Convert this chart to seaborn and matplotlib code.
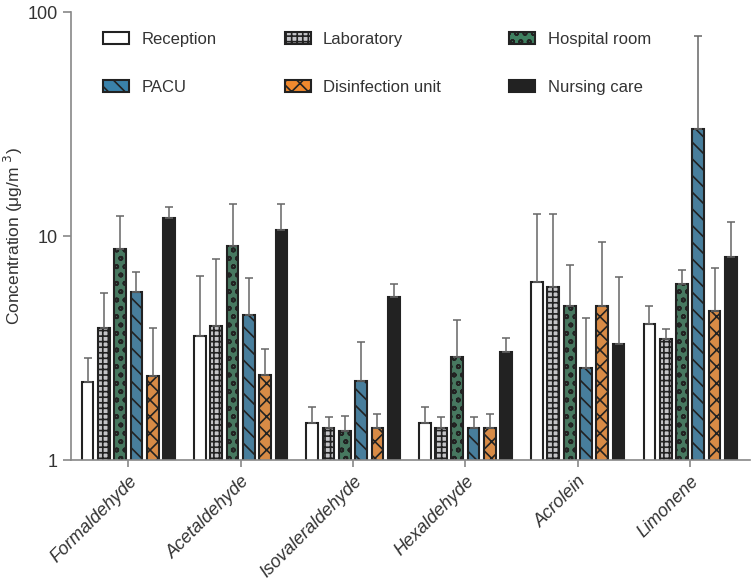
import numpy as np
import pandas as pd
import matplotlib
matplotlib.use("Agg")
import matplotlib.pyplot as plt
import seaborn as sns
from matplotlib.patches import Patch

compounds = ["Formaldehyde", "Acetaldehyde", "Isovaleraldehyde", "Hexaldehyde", "Acrolein", "Limonene"]
locations = ["Reception", "Laboratory", "Hospital room", "PACU", "Disinfection unit", "Nursing care"]

reception = [2.23, 3.58, 1.47, 1.47, 6.25, 4.05]
laboratory = [3.88, 3.97, 1.39, 1.39, 5.92, 3.47]
hospital_room = [8.75, 9.02, 1.35, 2.88, 4.87, 6.10]
pacu = [5.62, 4.44, 2.25, 1.39, 2.58, 30.0]
disinfection = [2.37, 2.39, 1.39, 1.39, 4.87, 4.63]
nursing = [12.0, 10.7, 5.35, 3.03, 3.30, 8.06]

reception_err_top = [2.85, 6.63, 1.72, 1.72, 12.5, 4.87]
laboratory_err_top = [5.57, 7.89, 1.56, 1.56, 12.5, 3.85]
hospital_room_err_top = [12.3, 13.9, 1.57, 4.22, 7.43, 7.05]
pacu_err_top = [6.9, 6.49, 3.37, 1.56, 4.31, 78.2]
disinfection_err_top = [3.88, 3.13, 1.60, 1.60, 9.4, 7.2]
nursing_err_top = [13.5, 13.9, 6.11, 3.51, 6.56, 11.55]

means = [reception, laboratory, hospital_room, pacu, disinfection, nursing]
tops = [reception_err_top, laboratory_err_top, hospital_room_err_top,
        pacu_err_top, disinfection_err_top, nursing_err_top]

rows = []
for loc, vals in zip(locations, means):
    for comp, v in zip(compounds, vals):
        rows.append({"Compound": comp, "Location": loc, "Concentration": v})
df = pd.DataFrame(rows)

face = {"Reception": "#ffffff", "Laboratory": "#c4c4c8", "Hospital room": "#3f8060",
        "PACU": "#3a82aa", "Disinfection unit": "#f0892e", "Nursing care": "#222222"}
hatches = {"Reception": "", "Laboratory": "+++", "Hospital room": "oo",
           "PACU": "\\\\", "Disinfection unit": "xx", "Nursing care": ""}

sns.set_style("ticks")
plt.rcParams["font.family"] = ["Liberation Sans", "DejaVu Sans"]
plt.rcParams["hatch.linewidth"] = 1.2

fig = plt.figure(figsize=(7.55, 5.81), dpi=100)
ax = fig.add_axes([0.094, 0.208, 0.899, 0.771])
ax.set_yscale("log")

sns.barplot(data=df, x="Compound", y="Concentration", hue="Location",
            order=compounds, hue_order=locations, palette=face,
            width=0.87, gap=0.28, errorbar=None, legend=False, ax=ax,
            edgecolor="#222222", linewidth=1.5)

for cont, loc, top in zip(ax.containers, locations, tops):
    xs = []
    ys = []
    for p in cont.patches:
        p.set_hatch(hatches[loc])
        p.set_edgecolor("#222222")
        xs.append(p.get_x() + p.get_width() / 2)
        ys.append(p.get_height())
    ys = np.array(ys)
    up = np.array(top) - ys
    ax.errorbar(xs, ys, yerr=[np.zeros_like(up), up], fmt="none",
                ecolor="#666666", elinewidth=1.1, capsize=3, capthick=1.1, zorder=1)

ax.set_ylim(1, 100)
ax.set_xlim(-0.51, 5.53)
ax.yaxis.set_major_locator(matplotlib.ticker.FixedLocator([1, 10, 100]))
ax.yaxis.set_minor_locator(matplotlib.ticker.NullLocator())
ax.yaxis.set_major_formatter(matplotlib.ticker.FixedFormatter(["1", "10", "100"]))

txt = "#333333"
for s in ["top", "right"]:
    ax.spines[s].set_visible(False)
for s in ["left", "bottom"]:
    ax.spines[s].set_color("#888888")
    ax.spines[s].set_linewidth(1.2)
ax.tick_params(axis="y", colors="#888888", labelcolor=txt, labelsize=13, length=6, width=1.2)
ax.tick_params(axis="x", colors="#888888", labelcolor=txt, labelsize=13, length=5, width=1.2, pad=4)
ax.set_xticks(range(len(compounds)))
ax.set_xticklabels(compounds, rotation=45, ha="right", rotation_mode="anchor", style="italic")
ax.set_xlabel("")
ax.set_ylabel("Concentration (μg/m $^{3}$)", fontsize=12.5, color=txt)
ax.yaxis.set_label_coords(-0.068, 0.5)

handles = [Patch(facecolor=face[l], edgecolor="#222222", hatch=hatches[l], linewidth=1.5, label=l)
           for l in locations]
order = [0, 3, 1, 4, 2, 5]
leg = ax.legend([handles[i] for i in order], [locations[i] for i in order],
                ncol=3, frameon=False, loc="upper left", bbox_to_anchor=(0.025, 0.99),
                fontsize=12, handlelength=1.55, handleheight=0.7, columnspacing=4.1,
                labelspacing=2.0, handletextpad=0.75, labelcolor=txt)

fig.savefig("out.png", dpi=100)
